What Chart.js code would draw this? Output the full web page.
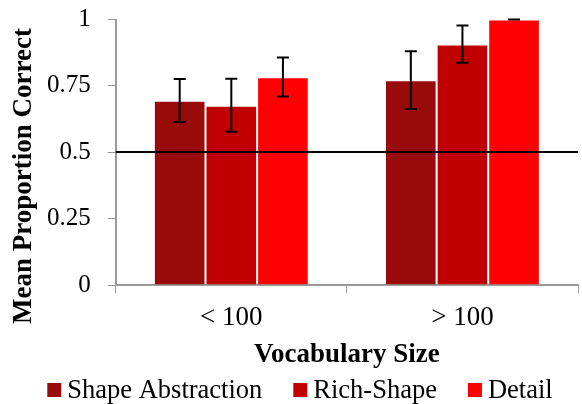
<!DOCTYPE html>
<html>
<head>
<meta charset="utf-8">
<script src="https://cdn.jsdelivr.net/npm/chart.js@4"></script>
<style>
  html, body { margin: 0; padding: 0; background: #fff; }
  #wrap { width: 582px; height: 404px; }
</style>
</head>
<body>
<div id="wrap"><canvas id="chart"></canvas></div>
<script>
// data
const categories = ['< 100', '> 100']
const seriesNames = ['Shape Abstraction', 'Rich-Shape', 'Detail']
const seriesColors = ['#990a0a', '#c00000', '#ff0000']
const shapeAbstraction = [0.694, 0.771]
const richShape = [0.675, 0.906]
const detail = [0.783, 1.0]
// error bar ends [low, high]
const shapeAbstractionErr = [[0.614, 0.776], [0.663, 0.880]]
const richShapeErr = [[0.577, 0.777], [0.837, 0.977]]
const detailErr = [[0.710, 0.857], [1.0, 1.0]]
const yTicks = [0, 0.25, 0.5, 0.75, 1]
const chanceLevel = 0.5
const yTitle = 'Mean Proportion Correct'
const xTitle = 'Vocabulary Size'

const FONT = "'Liberation Serif', 'Times New Roman', serif"

// draws error bars + the 0.5 reference line
const errorBars = {
  id: 'errorBars',
  afterDatasetsDraw(chart) {
    const ctx = chart.ctx
    const y = chart.scales.y
    const area = chart.chartArea
    ctx.save()
    ctx.strokeStyle = '#000'
    ctx.lineWidth = 2
    chart.data.datasets.forEach((ds, i) => {
      const meta = chart.getDatasetMeta(i)
      meta.data.forEach((bar, j) => {
        const [lo, hi] = ds.errors[j]
        const yLo = y.getPixelForValue(lo)
        const yHi = y.getPixelForValue(hi)
        ctx.beginPath()
        ctx.moveTo(bar.x, yLo); ctx.lineTo(bar.x, yHi)
        ctx.moveTo(bar.x - 6, yLo); ctx.lineTo(bar.x + 6, yLo)
        ctx.moveTo(bar.x - 6, yHi); ctx.lineTo(bar.x + 6, yHi)
        ctx.stroke()
      })
    })
    const yc = Math.round(y.getPixelForValue(chanceLevel))
    ctx.beginPath()
    ctx.moveTo(area.left, yc)
    ctx.lineTo(area.right, yc)
    ctx.stroke()
    ctx.restore()
  }
}

// y title sits lower than the axis middle, and the legend is tight under the x title,
// so both are drawn here instead of by the built-in boxes
const extras = {
  id: 'extras',
  afterDraw(chart) {
    const ctx = chart.ctx
    ctx.save()
    ctx.fillStyle = '#000'
    ctx.font = 'bold 27px ' + FONT
    ctx.textAlign = 'center'
    ctx.textBaseline = 'middle'
    ctx.translate(24, 176)
    ctx.rotate(-Math.PI / 2)
    ctx.fillText(yTitle, 0, 0)
    ctx.restore()

    ctx.save()
    ctx.font = '26.5px ' + FONT
    ctx.textBaseline = 'middle'
    const box = 14, gap = 6, between = 31
    const items = chart.data.datasets.map(ds => ({ text: ds.label, color: ds.backgroundColor, w: ctx.measureText(ds.label).width }))
    const total = items.reduce((s, it) => s + box + gap + it.w, 0) + between * (items.length - 1)
    let x = 300 - total / 2
    const cy = 390
    items.forEach(it => {
      ctx.fillStyle = it.color
      ctx.fillRect(x, cy - box / 2, box, box)
      ctx.fillStyle = '#000'
      ctx.fillText(it.text, x + box + gap, cy + 1)
      x += box + gap + it.w + between
    })
    ctx.restore()
  }
}

const errs = [shapeAbstractionErr, richShapeErr, detailErr]
const values = [shapeAbstraction, richShape, detail]

const data = {
  labels: categories,
  datasets: seriesNames.map((name, i) => ({
    label: name,
    data: values[i],
    errors: errs[i],
    backgroundColor: seriesColors[i],
    borderColor: 'rgba(255,255,255,0.35)',
    borderWidth: 1,
    barPercentage: 1,
    categoryPercentage: 0.67
  }))
}

const config = {
  type: 'bar',
  data: data,
  plugins: [errorBars, extras],
  options: {
    responsive: false,
    animation: false,
    layout: { padding: { top: 5, right: 4, left: 30, bottom: 37 } },
    plugins: {
      tooltip: { enabled: false },
      legend: { display: false }
    },
    scales: {
      x: {
        grid: { display: true, drawOnChartArea: false, offset: true, color: '#999', tickLength: 8 },
        border: { color: '#999', width: 2 },
        ticks: { color: '#000', font: { family: FONT, size: 27, lineHeight: 0.8 }, padding: 14 },
        title: {
          display: true,
          text: xTitle,
          color: '#000',
          font: { family: FONT, size: 27, weight: 'bold', lineHeight: 0.9 },
          padding: { top: 0, bottom: 0 }
        }
      },
      y: {
        min: 0,
        max: 1,
        afterBuildTicks: (axis) => { axis.ticks = yTicks.map(v => ({ value: v })) },
        grid: { display: true, drawOnChartArea: false, color: '#999', tickLength: 8 },
        border: { color: '#999', width: 2 },
        ticks: {
          color: '#000',
          font: { family: FONT, size: 25, lineHeight: 0.2 },
          padding: 17,
          callback: (v) => String(v)
        }
      }
    }
  }
}

const canvas = document.getElementById('chart')
canvas.width = 582
canvas.height = 404
new Chart(canvas, config)
</script>
</body>
</html>
